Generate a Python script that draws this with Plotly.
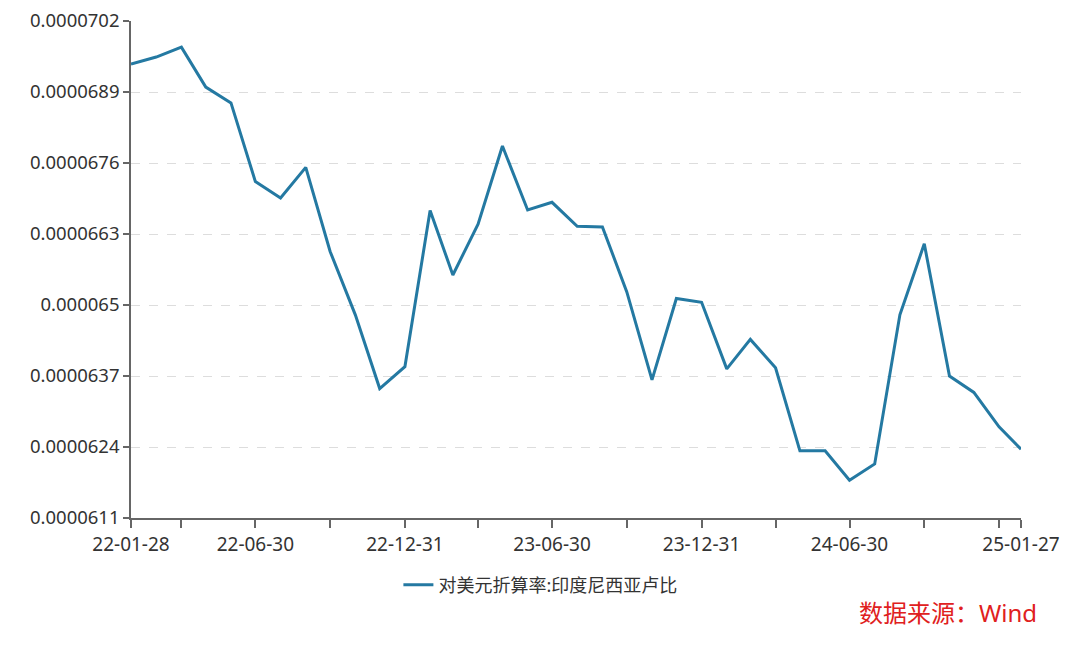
import plotly.graph_objects as go

dates = ["2022-01-28", "2022-02-28", "2022-03-31", "2022-04-30", "2022-05-31", "2022-06-30",
         "2022-07-31", "2022-08-31", "2022-09-30", "2022-10-31", "2022-11-30", "2022-12-31",
         "2023-01-31", "2023-02-28", "2023-03-31", "2023-04-30", "2023-05-31", "2023-06-30",
         "2023-07-31", "2023-08-31", "2023-09-30", "2023-10-31", "2023-11-30", "2023-12-31",
         "2024-01-31", "2024-02-29", "2024-03-31", "2024-04-30", "2024-05-31", "2024-06-30",
         "2024-07-31", "2024-08-31", "2024-09-30", "2024-10-31", "2024-11-30", "2024-12-31",
         "2025-01-27"]
values = [0.00006941, 0.00006954, 0.00006972, 0.00006899, 0.00006870, 0.00006726,
          0.00006696, 0.00006752, 0.00006598, 0.00006482, 0.00006347, 0.00006387,
          0.00006673, 0.00006555, 0.00006648, 0.00006791, 0.00006674, 0.00006688,
          0.00006644, 0.00006643, 0.00006524, 0.00006363, 0.00006512, 0.00006505,
          0.00006383, 0.00006437, 0.00006385, 0.00006233, 0.00006233, 0.00006179,
          0.00006209, 0.00006482, 0.00006612, 0.00006370, 0.00006340, 0.00006277,
          0.00006236]
series_name = "对美元折算率:印度尼西亚卢比"

y_tickvals = [0.0000611, 0.0000624, 0.0000637, 0.000065, 0.0000663, 0.0000676, 0.0000689, 0.0000702]
y_ticktext = ["0.0000611", "0.0000624", "0.0000637", "0.000065", "0.0000663", "0.0000676", "0.0000689", "0.0000702"]

x_tickvals = ["2022-01-28", "2022-03-31", "2022-06-30", "2022-09-30", "2022-12-31", "2023-03-31",
              "2023-06-30", "2023-09-30", "2023-12-31", "2024-03-31", "2024-06-30", "2024-09-30",
              "2024-12-31", "2025-01-27"]
x_ticktext = ["22-01-28", "", "22-06-30", "", "22-12-31", "", "23-06-30", "", "23-12-31", "",
              "24-06-30", "", "", "25-01-27"]

FONT = "Noto Sans, Noto Sans CJK SC, sans-serif"
AXIS = "#666666"

fig = go.Figure()
fig.add_trace(go.Scatter(
    x=dates, y=values, mode="lines", name=series_name,
    line=dict(color="#2479a2", width=3),
))

fig.update_layout(
    width=1080, height=646,
    margin=dict(l=131, r=59, t=21, b=128),
    paper_bgcolor="white", plot_bgcolor="white",
    font=dict(family=FONT, size=16, color="#333333"),
    showlegend=True,
    legend=dict(orientation="h", x=0.46, xanchor="center", y=-0.135, yanchor="middle",
                font=dict(size=18, color="#333333"), bgcolor="rgba(0,0,0,0)"),
    xaxis=dict(
        type="date", range=["2022-01-28", "2025-01-27"],
        tickmode="array", tickvals=x_tickvals, ticktext=x_ticktext,
        showgrid=False, zeroline=False, automargin=False,
        showline=True, linecolor=AXIS, linewidth=1.5,
        ticks="outside", ticklen=8, tickcolor=AXIS, tickwidth=1.5,
        tickfont=dict(size=19, color="#333333"),
    ),
    yaxis=dict(
        range=[0.0000611, 0.0000702],
        tickmode="array", tickvals=y_tickvals, ticktext=y_ticktext,
        showgrid=True, gridcolor="#dddddd", griddash="dash", gridwidth=1,
        zeroline=False, automargin=False,
        showline=True, linecolor=AXIS, linewidth=1.5,
        ticks="outside", ticklen=6, tickcolor=AXIS, tickwidth=1.5,
        tickfont=dict(size=18.5, color="#333333"),
    ),
)

fig.add_annotation(
    text="数据来源：Wind", xref="paper", yref="paper",
    x=1.0207, y=-0.191, xanchor="right", yanchor="middle",
    showarrow=False, font=dict(family=FONT, size=24, color="#e02020"),
)

fig.write_html("out.html", config={"displayModeBar": False},
               post_script="document.body.style.margin='0';")
